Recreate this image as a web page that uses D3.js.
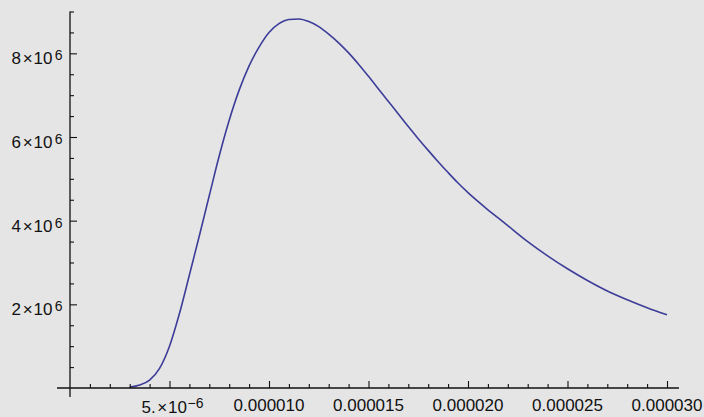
<!DOCTYPE html>
<html>
<head>
<meta charset="utf-8">
<script src="https://cdn.jsdelivr.net/npm/d3@7"></script>
<style>
  body { margin: 0; background: #e5e5e5; }
  svg { display: block; }
  text { font-family: "Liberation Sans", Arial, sans-serif; fill: #111; }
</style>
</head>
<body>
<div id="chart"></div>
<script>
// wavelength (m) and spectral value
var wavelengths = [3.0e-6, 3.5e-6, 4.0e-6, 4.5e-6, 5.0e-6, 5.5e-6, 6.0e-6, 6.5e-6, 7.0e-6, 7.5e-6,
  8.0e-6, 8.5e-6, 9.0e-6, 9.5e-6, 10.0e-6, 10.5e-6, 11.0e-6, 11.5e-6, 12.0e-6, 12.5e-6,
  13.0e-6, 13.5e-6, 14.0e-6, 14.5e-6, 15.0e-6, 15.5e-6, 16.0e-6, 16.5e-6, 17.0e-6, 17.5e-6,
  18.0e-6, 18.5e-6, 19.0e-6, 19.5e-6, 20.0e-6, 20.5e-6, 21.0e-6, 21.5e-6, 22.0e-6, 23.0e-6,
  24.0e-6, 25.0e-6, 26.0e-6, 27.0e-6, 28.0e-6, 29.0e-6, 30.0e-6];
var values = [0.02e6, 0.07e6, 0.19e6, 0.47e6, 1.00e6, 1.78e6, 2.70e6, 3.64e6, 4.60e6, 5.55e6,
  6.40e6, 7.12e6, 7.70e6, 8.15e6, 8.50e6, 8.71e6, 8.81e6, 8.82e6, 8.76e6, 8.64e6,
  8.46e6, 8.25e6, 8.01e6, 7.74e6, 7.45e6, 7.15e6, 6.85e6, 6.55e6, 6.25e6, 5.96e6,
  5.68e6, 5.41e6, 5.15e6, 4.90e6, 4.67e6, 4.46e6, 4.26e6, 4.07e6, 3.88e6, 3.50e6,
  3.16e6, 2.85e6, 2.57e6, 2.32e6, 2.11e6, 1.92e6, 1.75e6];

// ticks
var xMajor = [5e-6, 10e-6, 15e-6, 20e-6, 25e-6, 30e-6];
var xLabels = ["5.", "0.000010", "0.000015", "0.000020", "0.000025", "0.000030"];
var xMinor = d3.range(1, 30).map(function (d) { return d * 1e-6; })
  .filter(function (d, i) { return (i + 1) % 5 != 0; });
var yMajor = [2e6, 4e6, 6e6, 8e6];
var yLabels = ["2", "4", "6", "8"];
var yMinor = [0.5e6, 1e6, 1.5e6, 2.5e6, 3e6, 3.5e6, 4.5e6, 5e6, 5.5e6, 6.5e6, 7e6, 7.5e6, 8.5e6, 9e6];

var data = wavelengths.map(function (w, i) { return { x: w, y: values[i] }; });

var svgWidth = 704, svgHeight = 417;

var x = d3.scaleLinear().domain([0, 30e-6]).range([70, 667]);
var y = d3.scaleLinear().domain([0, 9e6]).range([388, 11.5]);

var svg = d3.select("#chart").append("svg")
  .attr("width", svgWidth)
  .attr("height", svgHeight);

svg.append("rect")
  .attr("width", svgWidth)
  .attr("height", svgHeight)
  .attr("fill", "#e5e5e5");

// curve
var line = d3.line()
  .x(function (d) { return x(d.x); })
  .y(function (d) { return y(d.y); })
  .curve(d3.curveMonotoneX);

svg.append("path")
  .datum(data)
  .attr("d", line)
  .attr("fill", "none")
  .attr("stroke", "#3d3d99")
  .attr("stroke-width", 1.6)
  .attr("stroke-linejoin", "round");

// axes lines (a little past the origin, like Mathematica)
var axisColor = "#111";
svg.append("line")
  .attr("x1", x(-0.65e-6)).attr("x2", x(30.6e-6))
  .attr("y1", y(0)).attr("y2", y(0))
  .attr("stroke", axisColor).attr("stroke-width", 1.3);
svg.append("line")
  .attr("x1", x(0)).attr("x2", x(0))
  .attr("y1", y(-0.215e6)).attr("y2", y(9e6))
  .attr("stroke", axisColor).attr("stroke-width", 1.3);

function ticks(axis, size, values, transform) {
  var g = svg.append("g")
    .attr("transform", transform)
    .call(axis.tickValues(values).tickSizeInner(size).tickSizeOuter(0).tickFormat(""));
  g.select(".domain").remove();
  g.selectAll("line").attr("stroke", axisColor).attr("stroke-width", 1.1);
}
ticks(d3.axisBottom(x), -4, xMinor, "translate(0," + y(0) + ")");
ticks(d3.axisBottom(x), -7, xMajor, "translate(0," + y(0) + ")");
ticks(d3.axisLeft(y), -4, yMinor, "translate(" + x(0) + ",0)");
ticks(d3.axisLeft(y), -7, yMajor, "translate(" + x(0) + ",0)");

// x tick labels
xMajor.forEach(function (v, i) {
  if (i == 0) {
    var t = svg.append("text")
      .attr("x", x(v) + 3)
      .attr("y", 413)
      .attr("text-anchor", "middle")
      .style("font-size", "17px");
    t.append("tspan").text(xLabels[i]);
    t.append("tspan").attr("dx", 1.5).text("\u00d7");
    t.append("tspan").attr("dx", 1).text("10");
    t.append("tspan").attr("dy", -5).attr("dx", 0.5).style("font-size", "14px").text("\u22126");
  } else {
    svg.append("text")
      .attr("x", x(v))
      .attr("y", 411)
      .attr("text-anchor", "middle")
      .style("font-size", "17px")
      .text(xLabels[i]);
  }
});

// y tick labels
yMajor.forEach(function (v, i) {
  var t = svg.append("text")
    .attr("x", 62.5)
    .attr("y", y(v) + 11)
    .attr("text-anchor", "end")
    .style("font-size", "17px");
  t.append("tspan").text(yLabels[i]);
  t.append("tspan").attr("dx", 1.7).text("\u00d7");
  t.append("tspan").attr("dx", 0.9).text("10");
  t.append("tspan").attr("dy", -4).attr("dx", 2.2).style("font-size", "14px").text("6");
});
</script>
</body>
</html>
